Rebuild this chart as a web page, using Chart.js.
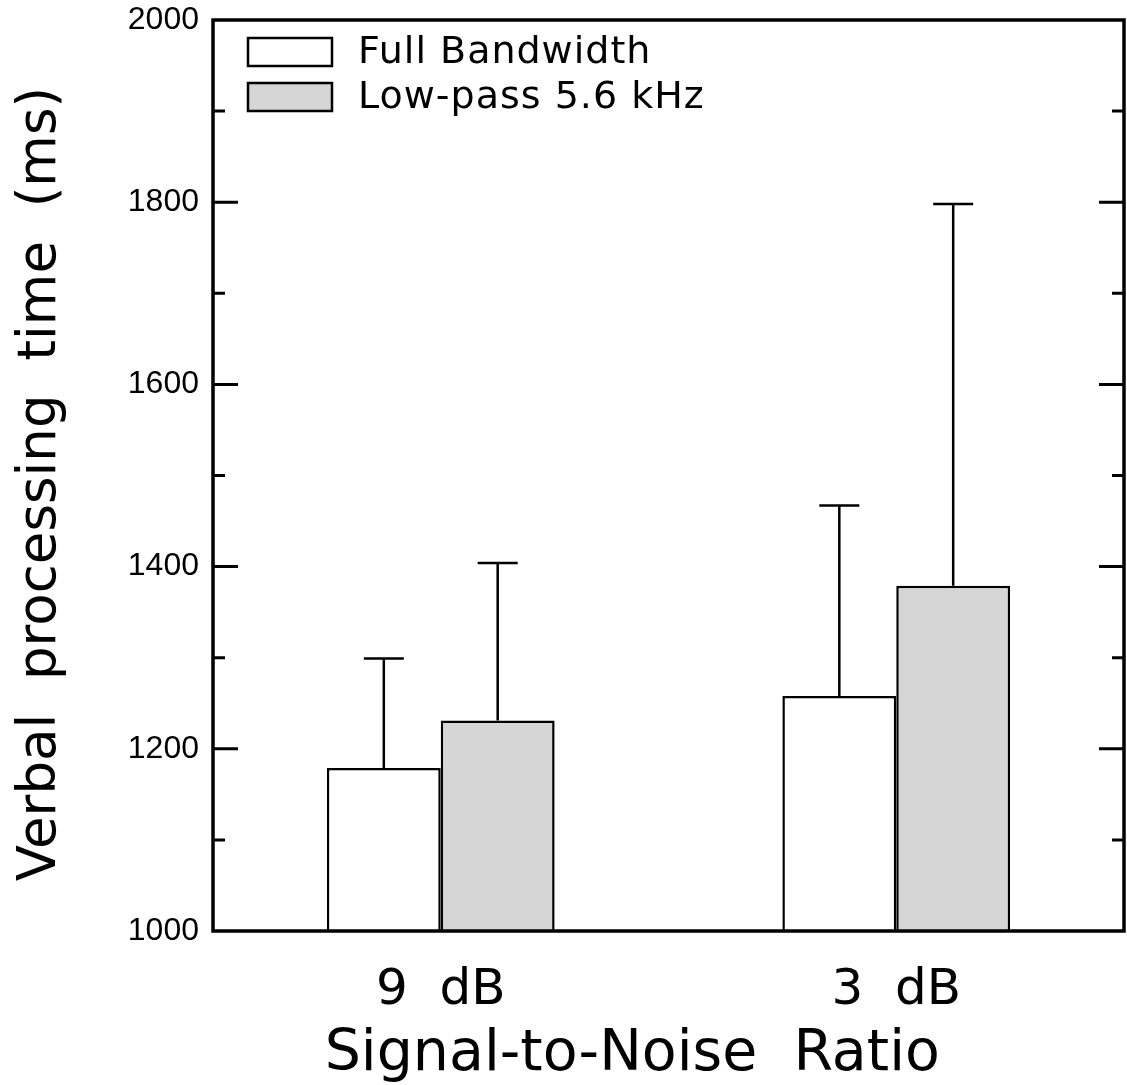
<!DOCTYPE html>
<html>
<head>
  <meta charset="UTF-8">
  <title>Verbal processing time</title>
  <script src="https://cdn.jsdelivr.net/npm/chart.js"></script>
  <style>
    body { margin: 0; background: #fff; }
    #wrap { width: 1127px; height: 1085px; }
  </style>
</head>
<body>
  <div id="wrap"><canvas id="chart" width="1127" height="1085"></canvas></div>
  <script>
    // data
    const categories = ['9  dB', '3  dB'];
    const seriesNames = ['Full Bandwidth', 'Low-pass 5.6 kHz'];
    const fullBandwidth = [1179, 1258];
    const fullBandwidthErr = [120, 209];
    const lowPass = [1231, 1379];
    const lowPassErr = [173, 419];
    const yTickLabels = [1000, 1200, 1400, 1600, 1800, 2000];

    const FONT = 'DejaVu Sans';

    // error bars (upper only), legend, inward ticks and the closed frame
    const extras = {
      id: 'extras',
      afterDatasetsDraw(chart) {
        const ctx = chart.ctx;
        const y = chart.scales.y;
        ctx.save();
        ctx.strokeStyle = '#000';
        ctx.lineWidth = 2.5;
        chart.data.datasets.forEach((ds, i) => {
          const meta = chart.getDatasetMeta(i);
          meta.data.forEach((bar, j) => {
            const top = y.getPixelForValue(ds.data[j] + ds.err[j]);
            ctx.beginPath();
            ctx.moveTo(bar.x, bar.y);
            ctx.lineTo(bar.x, top);
            ctx.moveTo(bar.x - 20, top);
            ctx.lineTo(bar.x + 20, top);
            ctx.stroke();
          });
        });
        ctx.restore();
      },
      afterDraw(chart) {
        const ctx = chart.ctx;
        const a = chart.chartArea;
        const y = chart.scales.y;
        ctx.save();
        ctx.strokeStyle = '#000';
        ctx.lineWidth = 3;
        y.ticks.forEach(t => {
          const py = y.getPixelForValue(t.value);
          const len = yTickLabels.includes(t.value) ? 25 : 12;
          if (t.value === y.min || t.value === y.max) return;
          ctx.beginPath();
          ctx.moveTo(a.left, py);
          ctx.lineTo(a.left + len, py);
          ctx.moveTo(a.right, py);
          ctx.lineTo(a.right - len, py);
          ctx.stroke();
        });
        ctx.lineWidth = 3.5;
        ctx.strokeRect(a.left, a.top, a.right - a.left, a.bottom - a.top);

        // legend inside the plot, top left
        ctx.font = '38px "' + FONT + '"';
        ctx.letterSpacing = '1px';
        ctx.textBaseline = 'middle';
        chart.data.datasets.forEach((ds, i) => {
          const bx = a.left + 35, by = a.top + 18 + 45 * i;
          ctx.fillStyle = ds.backgroundColor;
          ctx.fillRect(bx, by, 84, 28);
          ctx.lineWidth = 2.5;
          ctx.strokeRect(bx, by, 84, 28);
          ctx.fillStyle = '#000';
          ctx.fillText(ds.label, bx + 110, by + 15);
        });
        ctx.restore();
      }
    };

    new Chart(document.getElementById('chart'), {
      type: 'bar',
      data: {
        labels: categories,
        datasets: [
          { label: seriesNames[0], data: fullBandwidth, err: fullBandwidthErr,
            backgroundColor: '#ffffff', borderColor: '#000', borderWidth: 2.5 },
          { label: seriesNames[1], data: lowPass, err: lowPassErr,
            backgroundColor: '#d6d6d6', borderColor: '#000', borderWidth: 2.5 }
        ]
      },
      options: {
        responsive: false,
        animation: false,
        layout: { padding: { top: 20, right: 3 } },
        datasets: { bar: { barPercentage: 1, categoryPercentage: 0.5 } },
        plugins: {
          tooltip: { enabled: false },
          legend: { display: false }
        },
        scales: {
          x: {
            afterFit(s) { s.height = 154; s.paddingLeft = 0; s.paddingRight = 0; },
            grid: { display: false, drawTicks: false },
            border: { display: false },
            ticks: { color: '#000', padding: 30, font: { family: FONT, size: 50 } },
            title: {
              display: true, text: 'Signal-to-Noise  Ratio    ', color: '#000',
              padding: { top: 0, bottom: -4 }, font: { family: FONT, size: 57 }
            }
          },
          y: {
            min: 1000, max: 2000,
            afterFit(s) { s.width = 213; s.paddingTop = 0; s.paddingBottom = 0; },
            grid: { display: false, drawTicks: false },
            border: { display: false },
            ticks: {
              stepSize: 100, color: '#000', padding: 14,
              font: { family: 'Liberation Sans', size: 32 },
              callback: v => yTickLabels.includes(v) ? String(v) : ''
            },
            title: {
              display: true, text: 'Verbal  processing  time  (ms) ', color: '#000',
              padding: { top: 9, bottom: 0 }, font: { family: FONT, size: 53 }
            }
          }
        }
      },
      plugins: [extras]
    });
  </script>
</body>
</html>
